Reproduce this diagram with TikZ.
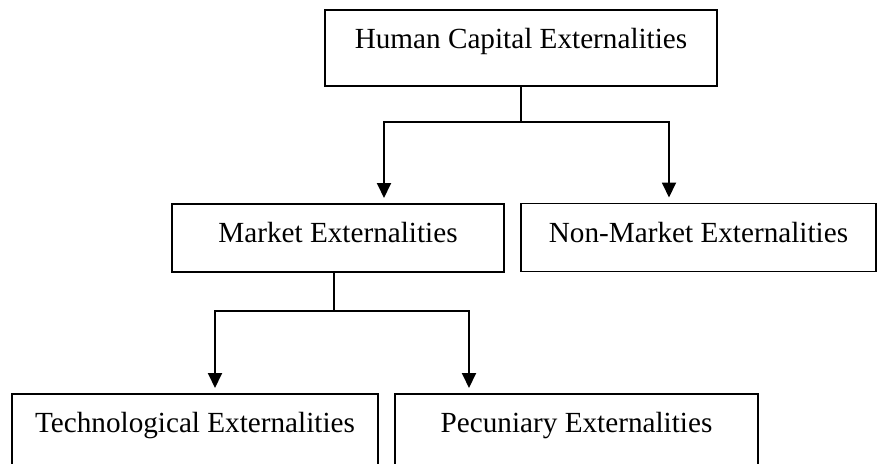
\documentclass[tikz,border=0pt]{standalone}
\usepackage{fontspec}
\setmainfont{Liberation Serif}
\usetikzlibrary{arrows.meta,positioning}
\definecolor{Ink}{HTML}{000000}

\begin{document}
\begin{tikzpicture}[x=1pt,y=-1pt,
    box/.style={draw=Ink,line width=1.9pt,inner xsep=0pt,inner ysep=0pt,anchor=north,
      font=\fontsize{29.2}{35}\selectfont,text height=39pt},
    link/.style={draw=Ink,line width=1.9pt},
    arrow/.style={link,-{Triangle[length=15pt,width=14pt]},shorten >=5pt}]
    \useasboundingbox (0,0) rectangle (877,463);
    \node[box,minimum width=392pt,text depth=37pt] (top) at (521,9) {Human Capital Externalities};
    \node[box,minimum width=332pt,text depth=29pt] (market) at (338,203) {Market Externalities};
    \node[box,minimum width=355pt,text depth=29pt] (nonmarket) at (698.5,202.5) {Non-Market Externalities};
    \node[box,minimum width=366pt,text depth=45pt] (tech) at (195,393) {Technological Externalities};
    \node[box,minimum width=363pt,text depth=45pt] (pec) at (576.5,393) {Pecuniary Externalities};
    % first level
    \path (top.south) ++(0,35) coordinate (topjoin);
    \draw[link] (top.south) -- (topjoin);
    \draw[arrow] (topjoin) -| ([xshift=46pt]market.north);
    \draw[arrow] (topjoin) -| ([xshift=-29.5pt]nonmarket.north);
    % second level
    \path ([xshift=-4pt]market.south) coordinate (mstem) ++(0,38) coordinate (mjoin);
    \draw[link] (mstem) -- (mjoin);
    \draw[arrow] (mjoin) -| ([xshift=20pt]tech.north);
    \draw[arrow] (mjoin) -| ([xshift=-107.5pt]pec.north);
  \end{tikzpicture}
\end{document}
